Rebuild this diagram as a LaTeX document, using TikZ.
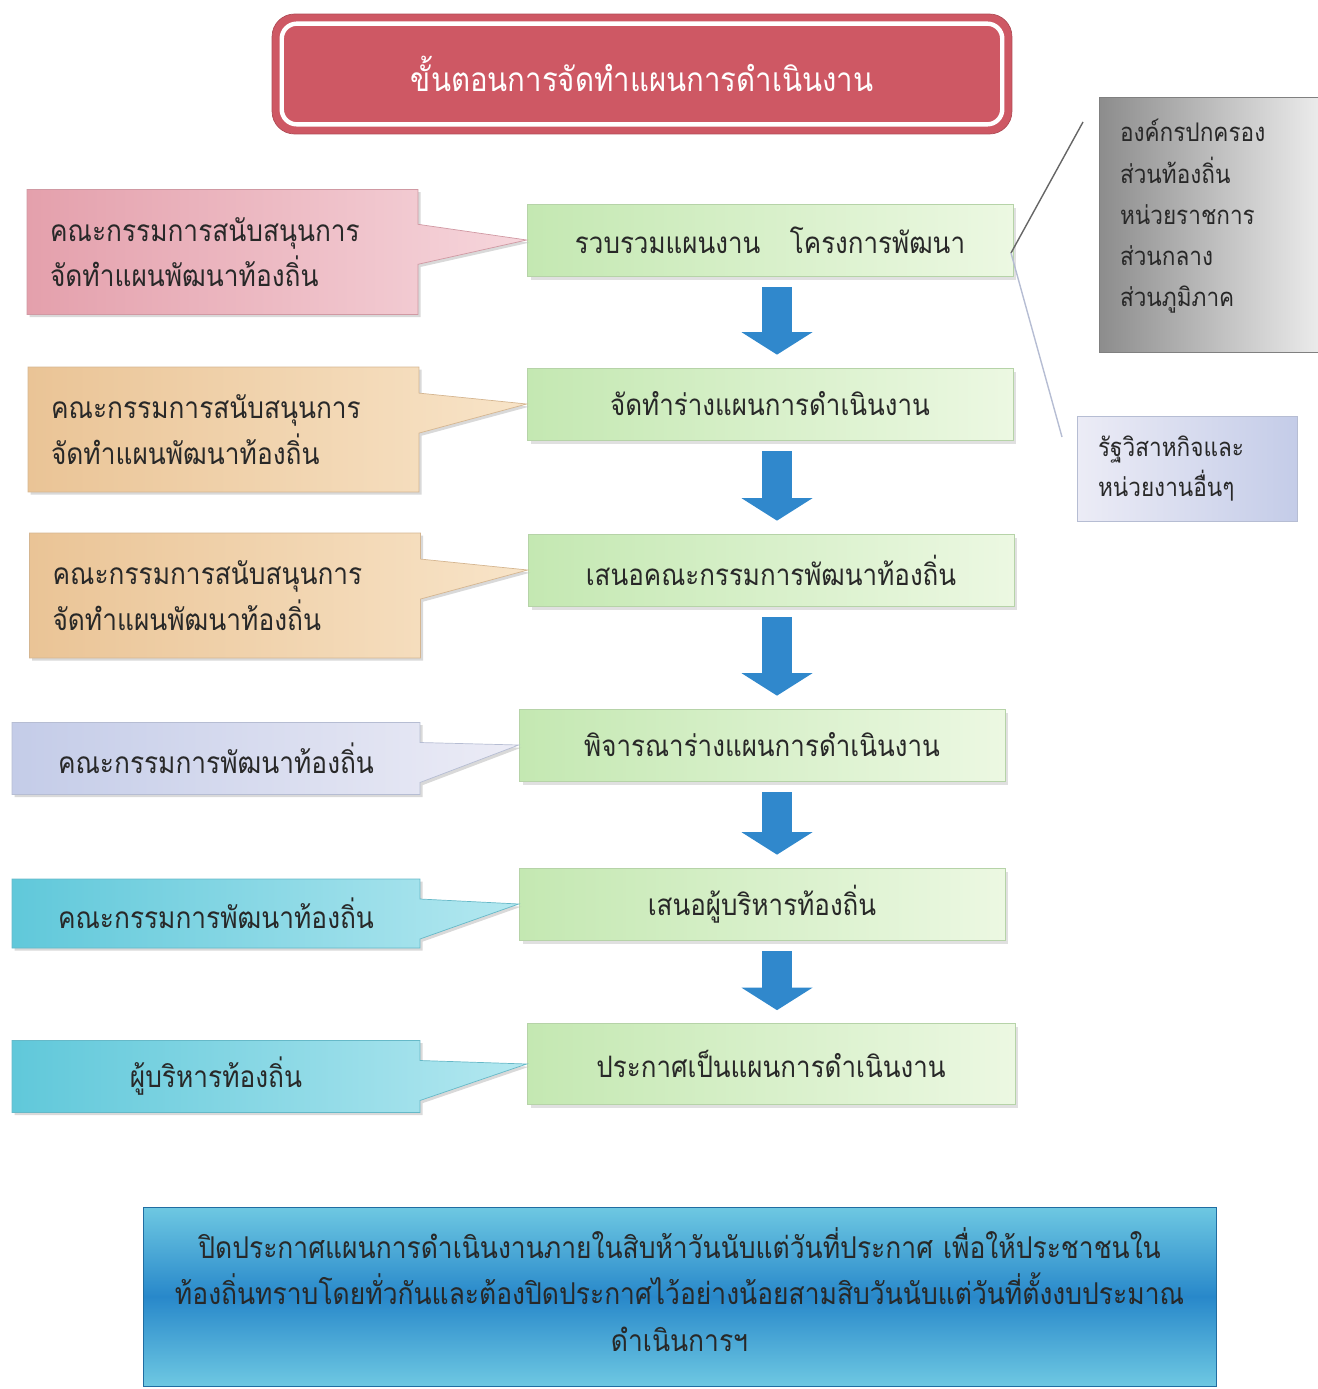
\documentclass[tikz,border=0pt]{standalone}
\usepackage{fontspec}
\setmainfont[Script=Thai, FakeStretch=0.88]{Loma}
\usetikzlibrary{positioning,shapes.callouts,shadows,arrows.meta,calc}

\definecolor{titlered}{RGB}{206,88,100}
\definecolor{grnA}{RGB}{196,232,178}
\definecolor{grnB}{RGB}{236,248,226}
\definecolor{pinkA}{RGB}{228,160,172}
\definecolor{pinkB}{RGB}{246,214,220}
\definecolor{peachA}{RGB}{234,196,150}
\definecolor{peachB}{RGB}{248,228,200}
\definecolor{lavA}{RGB}{196,204,232}
\definecolor{lavB}{RGB}{236,236,246}
\definecolor{cyanA}{RGB}{96,200,218}
\definecolor{cyanB}{RGB}{180,232,240}
\definecolor{flowblue}{RGB}{48,136,204}
\definecolor{seablue}{RGB}{40,136,202}
\definecolor{seacyan}{RGB}{110,200,226}
\definecolor{ink}{RGB}{40,40,40}

\begin{document}
\begin{tikzpicture}[x=0.02cm, y=-0.02cm,
    titlebox/.style={rounded corners=0.45cm, fill=titlered, draw=titlered!85!black,
      minimum width=14.8cm, minimum height=2.4cm, text=white,
      font=\fontsize{19}{24}\selectfont},
    stepbox/.style={draw=grnA!80!gray, left color=grnA, right color=grnB,
      minimum width=9.72cm, minimum height=1.44cm, text=ink,
      font=\fontsize{16.8}{20}\selectfont,
      drop shadow={shadow xshift=2pt, shadow yshift=-2pt, fill=gray!40, opacity=0.6}},
    note/.style={rectangle callout, callout pointer width=0.8cm, text=ink,
      minimum width=8.16cm, minimum height=1.44cm,
      font=\fontsize{17}{26}\selectfont,
      drop shadow={shadow xshift=1.5pt, shadow yshift=-1.5pt, fill=gray!50, opacity=0.6}},
    twoline/.style={note, minimum width=7.82cm, minimum height=2.5cm,
      text width=6.9cm, inner xsep=0.46cm, align=left},
    flowarrow/.style={flowblue, line width=0.6cm,
      -{Triangle[width=1.4cm, length=0.45cm]},
      shorten <=0.22cm, shorten >=0.26cm},
    sidebox/.style={text=ink, align=left, inner xsep=0.42cm,
      font=\fontsize{14.6}{23.5}\selectfont}]
  \useasboundingbox (0,0) rectangle (1318,1389);

  % title
  \node [titlebox] (title) at (642,74) {ขั้นตอนการจัดทำแผนการดำเนินงาน};
  \draw [white, line width=2.5pt, rounded corners=0.3cm]
    ($(title.north west)+(10,10)$) rectangle ($(title.south east)+(-10,-10)$);

  % steps
  \node [stepbox] (g1) at (770,240) {รวบรวมแผนงาน\hspace{1em}โครงการพัฒนา};
  \node [stepbox] (g2) at (770,404) {จัดทำร่างแผนการดำเนินงาน};
  \node [stepbox] (g3) at (771,570) {เสนอคณะกรรมการพัฒนาท้องถิ่น};
  \node [stepbox] (g4) at (762,745) {พิจารณาร่างแผนการดำเนินงาน};
  \node [stepbox] (g5) at (762,904) {เสนอผู้บริหารท้องถิ่น};
  \node [stepbox, minimum width=9.76cm, minimum height=1.62cm] (g6) at (771,1064)
    {ประกาศเป็นแผนการดำเนินงาน};

  \coordinate (ax) at (777,0);
  \foreach \a/\b in {g1/g2, g2/g3, g3/g4, g4/g5, g5/g6}
    \draw [flowarrow] (\a.south -| ax) -- (\b.north -| ax);

  % who does each step
  \node [twoline, left color=pinkA, right color=pinkB, draw=pinkA!80!gray,
    callout absolute pointer={(g1.west)}] (c1) at (222.5,252)
    {คณะกรรมการสนับสนุนการ\\จัดทำแผนพัฒนาท้องถิ่น};
  \node [twoline, left color=peachA, right color=peachB, draw=peachA!80!gray,
    callout absolute pointer={(g2.west)}] (c2) at (223.5,429.5)
    {คณะกรรมการสนับสนุนการ\\จัดทำแผนพัฒนาท้องถิ่น};
  \node [twoline, left color=peachA, right color=peachB, draw=peachA!80!gray,
    callout absolute pointer={(g3.west)}] (c3) at (225,595.5)
    {คณะกรรมการสนับสนุนการ\\จัดทำแผนพัฒนาท้องถิ่น};
  \node [note, left color=lavA, right color=lavB, draw=lavA!80!gray,
    callout absolute pointer={(g4.west)}] (c4) at (216,758.5)
    {คณะกรรมการพัฒนาท้องถิ่น};
  \node [note, left color=cyanA, right color=cyanB, draw=cyanA!80!gray,
    minimum height=1.38cm, callout absolute pointer={(g5.west)}] (c5) at (216,913.5)
    {คณะกรรมการพัฒนาท้องถิ่น};
  \node [note, left color=cyanA, right color=cyanB, draw=cyanA!80!gray,
    callout absolute pointer={(g6.west)}] (c6) at (216,1076.5)
    {ผู้บริหารท้องถิ่น};

  % sources of projects
  \node [sidebox, minimum width=4.38cm, minimum height=5.1cm, text width=3.54cm,
    left color=black!45, right color=black!8, draw=gray] (org) at (1208.5,224.5)
    {องค์กรปกครอง\\ส่วนท้องถิ่น\\หน่วยราชการ\\ส่วนกลาง\\ส่วนภูมิภาค\par\vspace*{0.32cm}};
  \node [sidebox, minimum width=4.4cm, minimum height=2.1cm, text width=3.56cm,
    left color=lavB, right color=lavA, draw=lavA!80!gray,
    font=\fontsize{14.6}{22.5}\selectfont] (state) at (1187,468.5)
    {รัฐวิสาหกิจและ\\หน่วยงานอื่นๆ};

  \coordinate (fork) at (1011,253);
  \coordinate (orgend) at (1083,122);
  \coordinate (stateend) at (1062,437);
  \draw [gray!80!black, thick] (fork) -- (orgend);
  \draw [lavA!80!gray, thick] (fork) -- (stateend);

  % notice
  \node [minimum width=21.46cm, minimum height=3.58cm, text width=21cm, align=center,
    top color=seacyan, bottom color=seacyan, middle color=seablue,
    draw=seablue!80!black, text=ink, font=\fontsize{17.1}{26.6}\selectfont] (post) at (679.5,1296.5)
    {ปิดประกาศแผนการดำเนินงานภายในสิบห้าวันนับแต่วันที่ประกาศ เพื่อให้ประชาชนใน\\
     ท้องถิ่นทราบโดยทั่วกันและต้องปิดประกาศไว้อย่างน้อยสามสิบวันนับแต่วันที่ตั้งงบประมาณ\\
     ดำเนินการฯ\par\vspace*{0.28cm}};
\end{tikzpicture}
\end{document}
